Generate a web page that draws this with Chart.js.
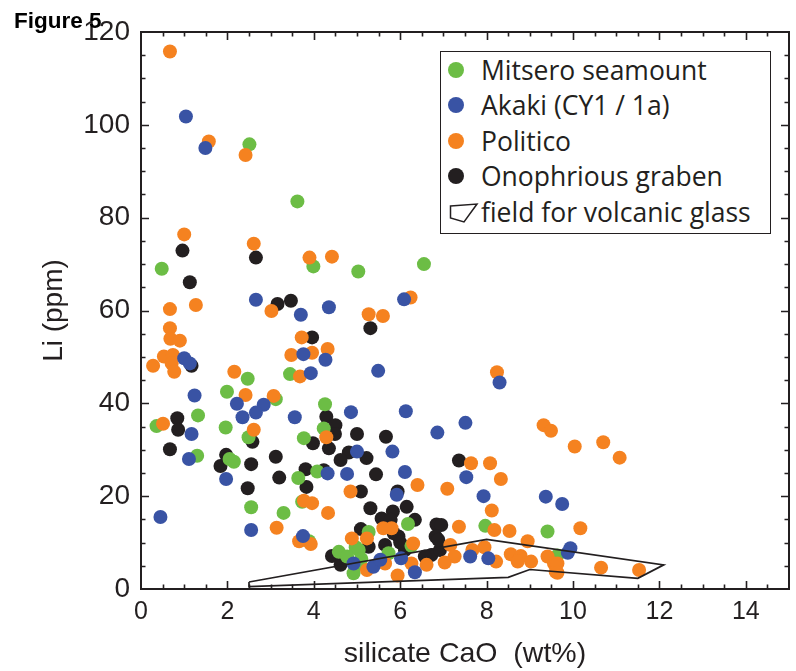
<!DOCTYPE html>
<html>
<head>
<meta charset="utf-8">
<script src="https://cdn.jsdelivr.net/npm/chart.js@4.4.1/dist/chart.umd.min.js"></script>
<style>
  html,body{margin:0;padding:0;background:#fff}
  #wrap{position:relative;width:796px;height:671px}
  #wrap canvas{position:absolute;left:0;top:0}
  .fig{position:absolute;left:14px;top:10px;font:bold 22.5px "Liberation Sans",Arial,sans-serif;line-height:22px;color:#000}
  .legend{position:absolute;left:440px;top:51px;width:331px;height:183px;border:1.5px solid #231f20;box-sizing:border-box;background:#fff;
          font-family:"Open Sans",sans-serif;font-size:26.5px;color:#231f20}
  .row{position:absolute;left:0;right:0;height:34px;line-height:34px;white-space:nowrap}
  .dot{position:absolute;left:7px;top:9px;width:16px;height:16px;border-radius:50%}
  .lbl{position:absolute;left:40px;top:0}
  .icon{position:absolute;left:8px;top:7px}
</style>
</head>
<body>
<div id="wrap">
  <canvas id="chart" width="796" height="671"></canvas>
  <div class="fig">Figure 5</div>
  <div class="legend" id="legend"></div>
</div>
<script>
// axis ticks
const xTicks = [0, 2, 4, 6, 8, 10, 12, 14];
const yTicks = [0, 20, 40, 60, 80, 100, 120];

// [silicate CaO wt%, Li ppm]
const mitsero = [
  [2.51,95.8],[3.62,83.5],[0.48,69.0],[3.99,69.5],[5.03,68.4],[6.55,70.0],
  [2.47,45.3],[1.99,42.5],[3.45,46.3],[3.12,40.9],[4.26,39.8],[1.32,37.4],
  [0.36,35.1],[1.96,34.8],[4.23,34.6],[3.77,32.5],[2.49,32.7],[1.30,28.7],
  [2.05,28.0],[2.15,27.4],[4.08,25.3],[3.64,23.9],[3.73,18.8],[2.55,17.6],
  [3.30,16.4],[6.18,14.0],[7.97,13.6],[9.41,12.4],[5.27,12.3],[3.89,10.3],
  [6.26,9.3],[4.97,9.0],[5.04,8.4],[4.58,8.0],[5.73,7.7],[9.64,7.2],[4.77,7.0],
  [5.10,6.5],[5.00,5.3],[4.92,3.4]
];
const akaki = [
  [1.04,101.8],[1.49,95.0],[2.66,62.3],[3.70,59.1],[4.35,60.7],[6.09,62.4],
  [1.00,49.7],[1.13,48.6],[3.76,50.6],[4.27,49.4],[3.93,46.5],[5.49,47.0],
  [8.30,44.5],[1.24,41.7],[2.22,39.9],[2.84,39.7],[2.66,38.0],[2.35,37.0],
  [4.86,38.1],[3.56,37.0],[6.13,38.3],[7.51,35.8],[1.17,33.4],[1.11,28.0],
  [6.86,33.7],[5.00,29.6],[5.82,29.6],[7.53,24.1],[6.11,25.2],[4.77,24.8],
  [4.32,24.9],[1.97,23.7],[5.92,20.3],[7.93,20.0],[9.37,19.9],[9.75,18.3],
  [0.45,15.5],[2.55,12.7],[3.75,11.4],[9.94,8.8],[9.88,7.8],[7.62,7.0],
  [8.04,6.6],[6.02,6.6],[6.34,3.6],[5.38,4.8],[5.54,6.3],[4.92,5.5]
];
const politico = [
  [0.67,115.8],[1.57,96.4],[2.42,93.5],[1.00,76.4],[2.61,74.4],[3.90,71.4],
  [4.42,71.6],[6.24,62.8],[0.67,60.3],[1.27,61.2],[3.02,59.9],[5.27,59.2],
  [5.60,58.8],[0.67,56.2],[0.68,53.9],[0.90,53.5],[0.53,50.1],[0.74,50.4],
  [0.28,48.1],[0.71,48.6],[0.77,46.8],[3.72,54.2],[3.48,50.4],[3.96,50.9],
  [4.32,51.7],[3.68,45.8],[2.16,46.8],[2.42,41.8],[3.07,41.6],[8.24,46.7],
  [0.51,35.6],[2.61,34.3],[4.29,32.7],[9.32,35.3],[9.49,34.1],[10.04,30.7],
  [10.70,31.6],[11.08,28.3],[7.64,27.1],[8.08,27.1],[8.33,23.7],[6.40,22.4],
  [7.09,21.6],[4.85,21.0],[3.77,19.0],[3.96,18.5],[4.33,16.4],[8.12,16.9],
  [3.14,13.2],[10.17,13.1],[5.61,13.1],[5.80,13.1],[7.36,13.4],[8.18,12.7],
  [8.53,12.5],[8.95,10.3],[5.23,10.9],[4.88,10.9],[3.66,10.3],[3.93,9.7],
  [6.30,9.8],[7.16,9.5],[7.67,8.4],[7.95,9.0],[7.26,7.0],[7.03,5.7],
  [6.61,5.2],[8.22,5.9],[8.56,7.5],[8.79,7.1],[9.03,5.9],[8.72,5.9],
  [9.41,7.0],[9.56,5.5],[9.60,3.7],[6.26,5.5],[5.94,2.9],[5.23,4.1],
  [5.65,5.5],[9.64,5.5],[9.64,3.5],[10.65,4.6],[11.53,4.1]
];
const onophrious = [
  [0.96,72.9],[1.13,66.1],[2.66,71.4],[3.16,61.4],[3.47,62.1],[5.31,56.2],
  [3.96,54.2],[1.17,48.1],[4.29,37.1],[0.84,36.8],[0.86,34.3],[0.67,30.1],
  [2.58,31.7],[1.97,28.9],[1.84,26.5],[2.55,26.9],[3.12,28.5],[3.20,24.0],
  [2.47,21.7],[4.50,35.3],[4.49,33.4],[5.00,33.4],[5.67,32.8],[3.98,31.4],
  [4.35,30.3],[4.81,29.4],[4.62,27.8],[5.22,28.2],[7.36,27.7],[3.81,25.8],
  [4.23,25.6],[3.83,22.0],[5.44,24.7],[5.09,21.0],[5.94,21.0],[5.31,17.4],
  [6.15,17.7],[5.83,16.7],[5.57,15.2],[5.78,14.9],[6.34,14.9],[6.84,13.9],
  [6.95,13.8],[5.09,12.9],[6.82,11.3],[5.96,11.3],[5.65,9.5],[6.11,8.4],
  [5.27,9.1],[6.72,7.3],[6.92,8.4],[6.57,7.0],[4.42,7.1],[4.62,5.2],
  [5.85,12.0],[6.00,10.0],[6.88,10.6]
];
// outline of the volcanic glass field
const glassFieldCaO = [2.5, 8.0, 12.1, 11.5, 9.0, 8.5, 2.5, 2.5];
const glassFieldLi  = [1.5, 10.7, 5.2, 2.3, 4.2, 2.5, 0.5, 1.5];

const seriesNames  = ['Mitsero seamount', 'Akaki (CY1 / 1a)', 'Politico', 'Onophrious graben'];
const seriesData   = [mitsero, akaki, politico, onophrious];
const seriesColors = ['#6cbd45', '#3953a4', '#f58220', '#231f20'];
const seriesOrder  = [3, 1, 2, 4]; // higher = drawn first
const ink = '#231f20';

const datasets = seriesNames.map((name, i) => ({
  label: name,
  data: seriesData[i].map(p => ({x: p[0], y: p[1]})),
  backgroundColor: seriesColors[i],
  borderWidth: 0,
  pointRadius: 7,
  pointHoverRadius: 7,
  order: seriesOrder[i]
}));
datasets.push({
  label: 'field for volcanic glass',
  data: glassFieldCaO.map((x, i) => ({x, y: glassFieldLi[i]})),
  showLine: true,
  fill: false,
  tension: 0,
  borderColor: ink,
  borderWidth: 1.7,
  pointRadius: 0,
  order: 0
});

// inward ticks and frame box
const framePlugin = {
  id: 'frame',
  afterDatasetsDraw(chart){
    const ctx = chart.ctx, a = chart.chartArea;
    const xs = chart.scales.x, ys = chart.scales.y;
    ctx.save();
    ctx.strokeStyle = ink;
    ctx.lineWidth = 1.6;
    ctx.beginPath();
    for(let v = 0.5; v < 15; v += 0.5){
      const px = Math.round(xs.getPixelForValue(v)) + 0.5;
      const len = xTicks.includes(v) ? 8 : 4.5;
      ctx.moveTo(px, a.bottom); ctx.lineTo(px, a.bottom - len);
      ctx.moveTo(px, a.top); ctx.lineTo(px, a.top + len);
    }
    for(let v = 5; v < 120; v += 5){
      const py = Math.round(ys.getPixelForValue(v)) + 0.5;
      const len = yTicks.includes(v) ? 8 : 4.5;
      ctx.moveTo(a.left, py); ctx.lineTo(a.left + len, py);
      ctx.moveTo(a.right, py); ctx.lineTo(a.right - len, py);
    }
    ctx.stroke();
    ctx.lineWidth = 2;
    ctx.strokeRect(a.left, a.top, a.right - a.left, a.bottom - a.top);
    ctx.restore();
  }
};

const tickFont = {family: '"Liberation Sans", Arial, sans-serif'};

new Chart(document.getElementById('chart').getContext('2d'), {
  type: 'scatter',
  data: {datasets},
  options: {
    responsive: false,
    animation: false,
    devicePixelRatio: 1,
    layout: {padding: {left: 0, top: 32, right: 3, bottom: 0}},
    plugins: {legend: {display: false}, tooltip: {enabled: false}},
    scales: {
      x: {
        type: 'linear', min: 0, max: 15,
        afterBuildTicks: s => { s.ticks = xTicks.map(v => ({value: v})); },
        afterFit: s => { s.height = 82; },
        grid: {display: false, drawTicks: false},
        border: {display: false},
        ticks: {font: {...tickFont, size: 25}, color: ink, padding: 8, maxRotation: 0, autoSkip: false},
        title: {display: true, text: 'silicate CaO  (wt%)', color: ink,
                font: {...tickFont, size: 28.5}, padding: {top: 0, bottom: 0}}
      },
      y: {
        type: 'linear', min: 0, max: 120,
        afterBuildTicks: s => { s.ticks = yTicks.map(v => ({value: v})); },
        afterFit: s => { s.width = 141; },
        grid: {display: false, drawTicks: false},
        border: {display: false},
        ticks: {font: {...tickFont, size: 28}, color: ink, padding: 11, autoSkip: false},
        title: {display: true, text: 'Li (ppm)', color: ink,
                font: {...tickFont, size: 28}, padding: {top: 37, bottom: 0}}
      }
    }
  },
  plugins: [framePlugin]
});

// legend box
const rowCenters = [17.5, 53, 88.5, 124, 159.5];
const legend = document.getElementById('legend');
seriesNames.forEach((name, i) => {
  const row = document.createElement('div');
  row.className = 'row';
  row.style.top = (rowCenters[i] - 17) + 'px';
  row.innerHTML = `<span class="dot" style="background:${seriesColors[i]}"></span><span class="lbl">${name}</span>`;
  legend.appendChild(row);
});
const fieldRow = document.createElement('div');
fieldRow.className = 'row';
fieldRow.style.top = (rowCenters[4] - 17) + 'px';
fieldRow.innerHTML = `<svg class="icon" width="30" height="22"><polygon points="1.5,4 28,2 15,20 1.5,16" fill="none" stroke="${ink}" stroke-width="1.5"/></svg><span class="lbl">field for volcanic glass</span>`;
legend.appendChild(fieldRow);
</script>
</body>
</html>
